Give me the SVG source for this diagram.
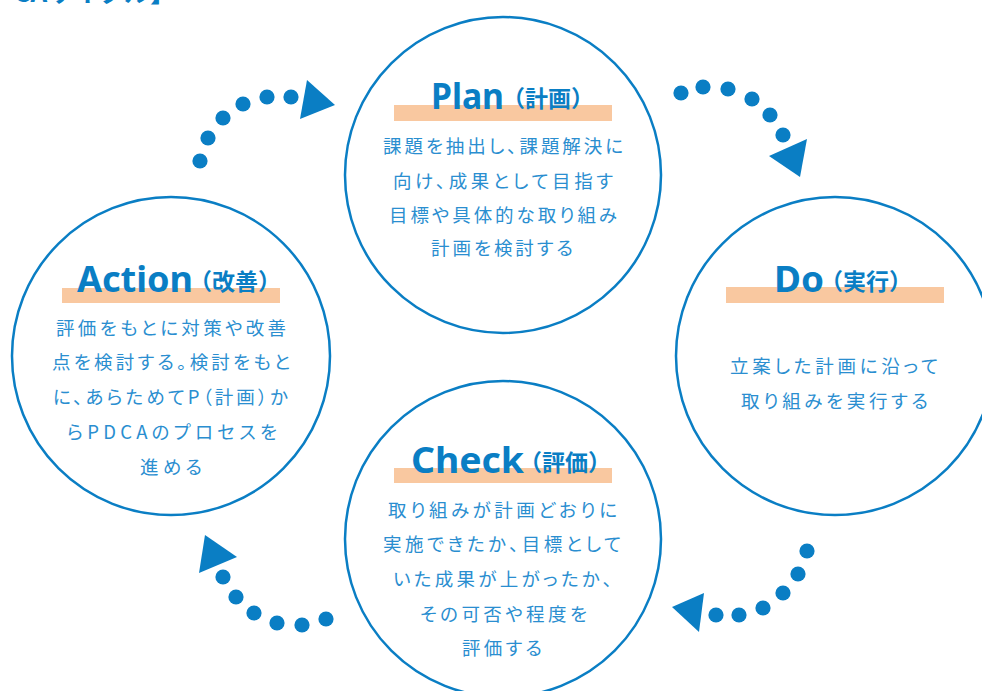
<svg xmlns="http://www.w3.org/2000/svg" width="982" height="691" viewBox="0 0 982 691">
<style>
.ring{fill:#fff;stroke:#0a7ec4;stroke-width:2.5}
.bar{fill:#f9c8a0}
.ttl{font-family:"Noto Sans","Noto Sans CJK JP",sans-serif;font-weight:700;font-size:36px;fill:#0a7ec4}
.ttj{font-family:"Noto Sans CJK JP",sans-serif;font-weight:700;font-size:23px;fill:#0a7ec4}
.body{font-family:"Noto Sans CJK JP",sans-serif;font-weight:400;font-size:18.5px;fill:#2a8ed0;font-feature-settings:"palt"}
.dot{fill:#0a7ec4}
.head{fill:#0a7ec4}
</style>
<rect width="982" height="691" fill="#fff"/>
<text x="176" y="1.5" text-anchor="end" font-family="Noto Sans CJK JP, sans-serif" font-weight="700" font-size="26" fill="#0a7ec4">CAサイクル】</text>
<g id="connectors">
  <g id="arrow-action-plan">
    <circle class="dot" cx="200" cy="161" r="7.6"/>
    <circle class="dot" cx="208" cy="138" r="7.6"/>
    <circle class="dot" cx="223" cy="118" r="7.6"/>
    <circle class="dot" cx="243" cy="104" r="7.6"/>
    <circle class="dot" cx="267" cy="97" r="7.6"/>
    <circle class="dot" cx="291" cy="97" r="7.6"/>
    <polygon class="head" points="307,80 335,105 300,119"/>
  </g>
  <g id="arrow-plan-do">
    <circle class="dot" cx="681" cy="93" r="7.6"/>
    <circle class="dot" cx="703" cy="87" r="7.6"/>
    <circle class="dot" cx="728" cy="89" r="7.6"/>
    <circle class="dot" cx="752" cy="99" r="7.6"/>
    <circle class="dot" cx="770" cy="115" r="7.6"/>
    <circle class="dot" cx="783" cy="135" r="7.6"/>
    <polygon class="head" points="807,139 800,177 769,156"/>
  </g>
  <g id="arrow-do-check">
    <circle class="dot" cx="807" cy="551" r="7.6"/>
    <circle class="dot" cx="798" cy="574" r="7.6"/>
    <circle class="dot" cx="783" cy="593" r="7.6"/>
    <circle class="dot" cx="763" cy="608" r="7.6"/>
    <circle class="dot" cx="739" cy="615" r="7.6"/>
    <circle class="dot" cx="716" cy="615" r="7.6"/>
    <polygon class="head" points="704,593 699,632 672,607"/>
  </g>
  <g id="arrow-check-action">
    <circle class="dot" cx="326" cy="619" r="7.6"/>
    <circle class="dot" cx="302" cy="625" r="7.6"/>
    <circle class="dot" cx="277" cy="623" r="7.6"/>
    <circle class="dot" cx="254" cy="613" r="7.6"/>
    <circle class="dot" cx="236" cy="597" r="7.6"/>
    <circle class="dot" cx="223" cy="577" r="7.6"/>
    <polygon class="head" points="205,535 237,557 199,573"/>
  </g>
</g>
<g id="plan">
  <circle class="ring" cx="503" cy="175" r="158"/>
  <rect class="bar" x="394" y="105" width="218" height="16"/>
  <text class="ttl" x="431" y="109" textLength="73" lengthAdjust="spacingAndGlyphs">Plan</text>
  <text class="ttj" x="502" y="107">（計画）</text>
  <text class="body" x="383" y="153" textLength="240" lengthAdjust="spacing">課題を抽出し、課題解決に</text>
  <text class="body" x="393" y="188" textLength="220" lengthAdjust="spacing">向け、成果として目指す</text>
  <text class="body" x="389" y="222" textLength="228" lengthAdjust="spacing">目標や具体的な取り組み</text>
  <text class="body" x="431" y="255" textLength="142" lengthAdjust="spacing">計画を検討する</text>
</g>
<g id="do">
  <circle class="ring" cx="835" cy="356" r="159"/>
  <rect class="bar" x="726" y="287" width="218" height="16"/>
  <text class="ttl" x="774" y="292" textLength="50" lengthAdjust="spacingAndGlyphs">Do</text>
  <text class="ttj" x="820" y="290">（実行）</text>
  <text class="body" x="730" y="373" textLength="208" lengthAdjust="spacing">立案した計画に沿って</text>
  <text class="body" x="741" y="408" textLength="187" lengthAdjust="spacing">取り組みを実行する</text>
</g>
<g id="check">
  <circle class="ring" cx="503" cy="539" r="158"/>
  <rect class="bar" x="394" y="468" width="218" height="15"/>
  <text class="ttl" x="411" y="473" textLength="113" lengthAdjust="spacingAndGlyphs">Check</text>
  <text class="ttj" x="519" y="471">（評価）</text>
  <text class="body" x="388" y="517" textLength="229" lengthAdjust="spacing">取り組みが計画どおりに</text>
  <text class="body" x="383" y="551" textLength="238" lengthAdjust="spacing">実施できたか、目標として</text>
  <text class="body" x="393" y="586" textLength="219" lengthAdjust="spacing">いた成果が上がったか、</text>
  <text class="body" x="420" y="621" textLength="167" lengthAdjust="spacing">その可否や程度を</text>
  <text class="body" x="462" y="655" textLength="80" lengthAdjust="spacing">評価する</text>
</g>
<g id="action">
  <circle class="ring" cx="171" cy="356" r="159"/>
  <rect class="bar" x="62" y="288" width="218" height="15"/>
  <text class="ttl" x="77" y="292" textLength="116" lengthAdjust="spacingAndGlyphs">Action</text>
  <text class="ttj" x="189" y="290">（改善）</text>
  <text class="body" x="56" y="335" textLength="230" lengthAdjust="spacing">評価をもとに対策や改善</text>
  <text class="body" x="52" y="369" textLength="238" lengthAdjust="spacing">点を検討する。検討をもと</text>
  <text class="body" x="53" y="404" textLength="235" lengthAdjust="spacing">に、あらためてP（計画）か</text>
  <text class="body" x="67" y="439" textLength="210" lengthAdjust="spacing">らPDCAのプロセスを</text>
  <text class="body" x="140" y="474" textLength="62" lengthAdjust="spacing">進める</text>
</g>
</svg>
